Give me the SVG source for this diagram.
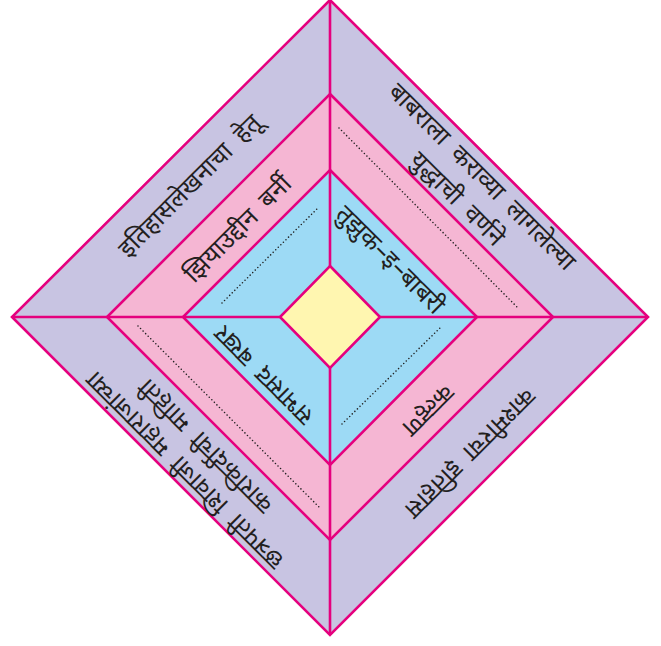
<svg xmlns="http://www.w3.org/2000/svg" width="661" height="646" viewBox="0 0 661 646">
<style>
.band{stroke:#E5007E;stroke-width:2.6;stroke-linejoin:miter}
.l1{fill:#C8C4E2}.l2{fill:#F5B6D3}.l3{fill:#9DDAF5}.l4{fill:#FFF6B0}
.div{stroke:#E5007E;stroke-width:2.6;fill:none}
.dot{stroke:#222;stroke-width:1.6;stroke-linecap:round;stroke-dasharray:0 3.6;fill:none}
text{font-family:"Noto Sans Devanagari","Noto Sans","Lohit Devanagari",sans-serif;font-size:25px;word-spacing:6px;fill:#231F20;text-anchor:middle}
</style>
<rect width="661" height="646" fill="#FFFFFF"/>
<g id="outer"><polygon class="band l1" points="330,0 648,317 330,635 12,317"/></g>
<g id="middle"><polygon class="band l2" points="330,94 553,317 330,540 107,317"/></g>
<g id="inner"><polygon class="band l3" points="330,170 477,317 330,465 183,317"/></g>
<g id="connectors">
<line class="div" x1="330" y1="0" x2="330" y2="635"/>
<line class="div" x1="12" y1="317" x2="648" y2="317"/>
</g>
<g id="core"><polygon class="band l4" points="330,266 380,317 330,368 280,317"/></g>
<g id="blanks">
<line class="dot" x1="222" y1="303" x2="319" y2="207"/>
<line class="dot" x1="339" y1="128" x2="519" y2="309"/>
<line class="dot" x1="138" y1="326" x2="320" y2="508"/>
<line class="dot" x1="342" y1="424" x2="440" y2="328"/>
</g>
<g id="label-purpose"><text transform="translate(190,186) rotate(-45)" y="8">इतिहासलेखनाचा हेतू</text></g>
<g id="label-barni"><text transform="translate(238,229) rotate(-45)" y="8">झियाउद्दीन बर्नी</text></g>
<g id="label-babur-wars">
<text transform="translate(482,177) rotate(45)" y="8">बाबराला कराव्या लागलेल्या</text>
<text transform="translate(457,199) rotate(45)" y="8">युद्धाची वर्णने</text>
</g>
<g id="label-tuzuk"><text transform="translate(390,260) rotate(45)" y="8">तुझुक–इ–बाबरी</text></g>
<g id="label-sabhasad"><text transform="translate(264,375) rotate(-135)" y="8">सभासद बखर</text></g>
<g id="label-shivaji">
<text transform="translate(185,470) rotate(-135)" y="8">छत्रपती शिवाजी महाराजांच्या</text>
<text transform="translate(206,446) rotate(-135)" y="8">कारकिर्दीची माहिती</text>
</g>
<g id="label-kalhan"><text transform="translate(428,410) rotate(135)" y="8">कल्हण</text></g>
<g id="label-kashmir"><text transform="translate(470,453) rotate(135)" y="8">काश्मीरचा इतिहास</text></g>
</svg>
